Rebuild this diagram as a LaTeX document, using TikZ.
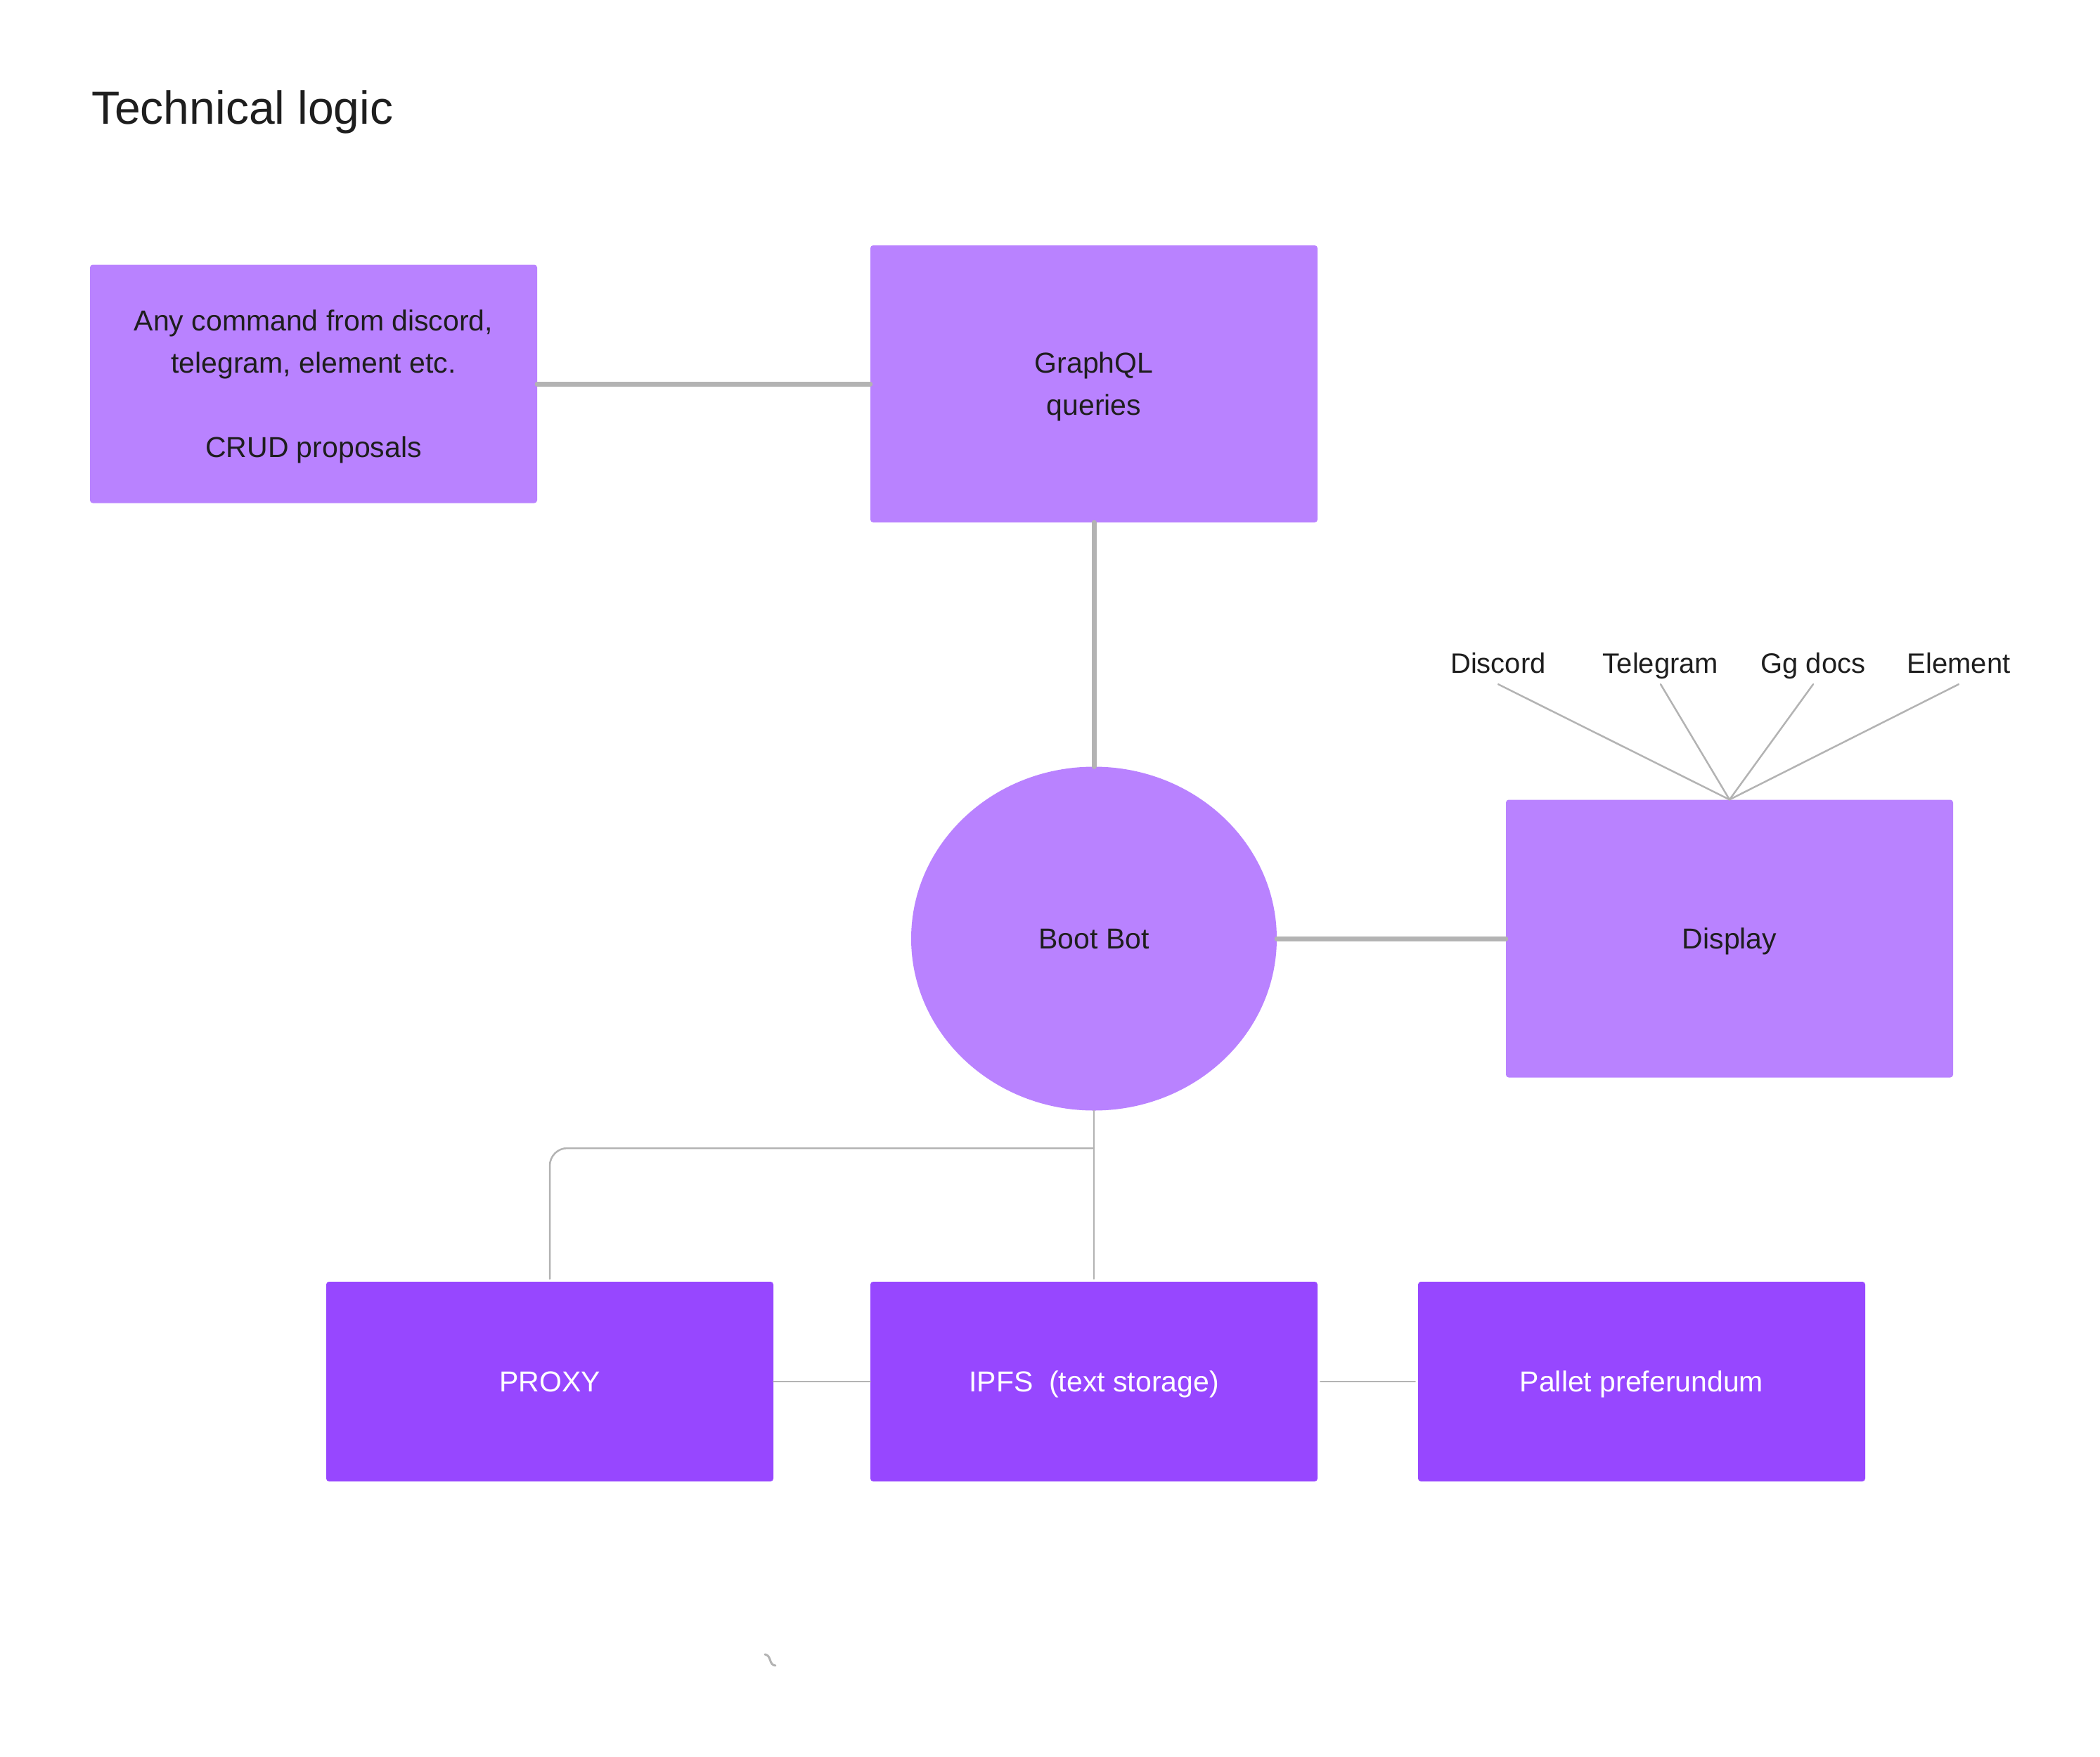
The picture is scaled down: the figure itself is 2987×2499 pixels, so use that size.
\documentclass[tikz,border=0pt]{standalone}
\usepackage{fontspec}
\setmainfont{Liberation Sans}
\usetikzlibrary{shapes.geometric}
\definecolor{lilac}{HTML}{B982FF}
\definecolor{deeppurple}{HTML}{9747FF}
\definecolor{linegray}{HTML}{B3B3B3}
\definecolor{inkdark}{HTML}{1E1E1E}
\begin{document}
\begin{tikzpicture}[x=1pt,y=-1pt,line cap=round,line join=round,
  boxfont/.style={font=\fontsize{41}{60}\selectfont},
  lightbox/.style={boxfont,fill=lilac,rounded corners=4pt,minimum width=636pt,text=inkdark,align=center,inner sep=0pt},
  darkbox/.style={boxfont,fill=deeppurple,rounded corners=4pt,minimum width=636pt,minimum height=284pt,text=white,inner sep=0pt,text depth=0pt},
  oneline/.style={text depth=0pt},
  twoline/.style={text depth=-1pt},
  tag/.style={font=\fontsize{40}{48}\selectfont,text=inkdark,anchor=base,inner sep=4pt,text depth=12pt},
  heavy/.style={draw=linegray,line width=7pt},
  light/.style={draw=linegray,line width=2.5pt}]
 \useasboundingbox (0,0) rectangle (2987,2499);
 \node[anchor=base west,inner sep=0pt,text=inkdark,font=\fontsize{66}{78}\selectfont] (title) at (130,177) {Technical logic};
 % top row
 \node[lightbox,twoline,minimum height=339pt] (cmd) at (446,546) {Any command from discord,\\telegram, element etc.\\[60pt]CRUD proposals};
 \node[lightbox,twoline,minimum height=394pt] (gql) at (1556,546) {GraphQL\\queries};
 % middle row
 \node[ellipse,fill=lilac,minimum width=520pt,minimum height=489pt,inner sep=0pt,boxfont,oneline,text=inkdark] (bot) at (1556,1335) {Boot Bot};
 \node[lightbox,oneline,minimum height=395pt] (disp) at (2460,1335) {Display};
 \foreach \name/\x/\txt in {discord/2131/Discord,telegram/2362/Telegram,ggdocs/2579/Gg docs,element/2786/Element}
 \node[tag] (\name) at (\x,957) {\txt};
 % bottom row
 \node[darkbox] (proxy) at (782,1965) {PROXY};
 \node[darkbox] (ipfs) at (1556,1965) {IPFS\ \ (text storage)};
 \node[darkbox] (pallet) at (2335,1965) {Pallet preferundum};
 % connectors
 \draw[heavy] (cmd.east)--(gql.west) (gql.south)--(bot.north) (bot.east)--(disp.west);
 \foreach \name in {discord,telegram,ggdocs,element}
 \draw[light] (disp.north)--(\name.south);
 \coordinate (fork) at (1556,1633);
 \draw[light,shorten >=4pt] (bot.south)--(ipfs.north);
 \draw[light,rounded corners=25pt,shorten >=4pt] (fork)-|(proxy.north);
 \draw[light,shorten <=4pt,shorten >=4pt] (proxy.east)--(ipfs.west) (ipfs.east)--(pallet.west);
 \draw[draw=linegray,line width=3pt] (1088,2353)..controls(1098,2355) and (1093,2368)..(1103,2369);
\end{tikzpicture}
\end{document}
